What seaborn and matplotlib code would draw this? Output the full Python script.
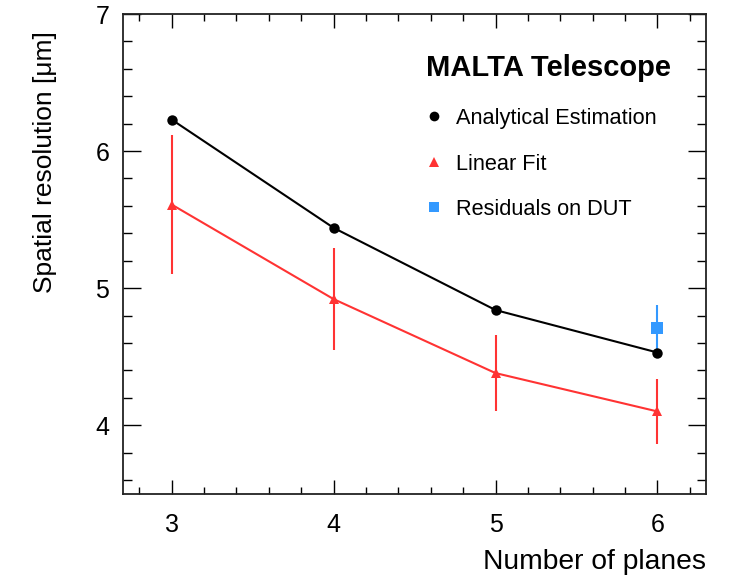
import matplotlib
matplotlib.use("Agg")
import matplotlib.pyplot as plt
from matplotlib.lines import Line2D
from matplotlib.ticker import MultipleLocator
import seaborn as sns
import pandas as pd

# Telescope resolution vs. number of planes
planes = [3, 4, 5, 6]
analytical = [6.23, 5.44, 4.84, 4.53]
linear_fit = [5.61, 4.92, 4.38, 4.10]
linear_fit_err = [0.51, 0.37, 0.28, 0.24]
dut_planes = [6]
dut_resid = [4.71]
dut_resid_err = [0.17]

legend_title = "MALTA Telescope"
legend_labels = ["Analytical Estimation", "Linear Fit", "Residuals on DUT"]

RED = "#ff3333"
BLUE = "#3399ff"

sns.set_style("ticks")
plt.rcParams["font.family"] = ["Liberation Sans", "DejaVu Sans"]
plt.rcParams["text.color"] = "black"
plt.rcParams["axes.labelcolor"] = "black"
plt.rcParams["xtick.color"] = "black"
plt.rcParams["ytick.color"] = "black"

fig = plt.figure(figsize=(7.34, 5.77), dpi=100)
ax = fig.add_axes([0.1676, 0.1444, 0.9619 - 0.1676, 0.9757 - 0.1444])

df_a = pd.DataFrame({"planes": planes, "res": analytical})
df_l = pd.DataFrame({"planes": planes, "res": linear_fit, "err": linear_fit_err})
df_d = pd.DataFrame({"planes": dut_planes, "res": dut_resid, "err": dut_resid_err})

# error bars
ax.errorbar(df_l["planes"], df_l["res"], yerr=df_l["err"], fmt="none",
            ecolor=RED, elinewidth=1.5, capsize=0, zorder=2)
ax.errorbar(df_d["planes"], df_d["res"], yerr=df_d["err"], fmt="none",
            ecolor=BLUE, elinewidth=1.5, capsize=0, zorder=2)

sns.lineplot(data=df_a, x="planes", y="res", ax=ax, color="black", lw=1.5,
             marker="o", markersize=7.5, markeredgewidth=0, zorder=4)
sns.lineplot(data=df_l, x="planes", y="res", ax=ax, color=RED, lw=1.5,
             marker="^", markersize=7.5, markeredgewidth=0, zorder=3)
sns.scatterplot(data=df_d, x="planes", y="res", ax=ax, color=BLUE,
                marker="s", s=70, linewidth=0, zorder=3)

ax.set_xlim(2.7, 6.3)
ax.set_ylim(3.5, 7.0)
ax.xaxis.set_major_locator(MultipleLocator(1))
ax.xaxis.set_minor_locator(MultipleLocator(0.2))
ax.yaxis.set_major_locator(MultipleLocator(1))
ax.yaxis.set_minor_locator(MultipleLocator(0.2))

ax.tick_params(axis="both", which="both", direction="in", top=True, right=True,
               width=1.0, colors="black", labelsize=18)
ax.tick_params(axis="x", which="major", length=9.9, pad=14)
ax.tick_params(axis="x", which="minor", length=5)
ax.tick_params(axis="y", which="major", length=12.7, pad=10)
ax.tick_params(axis="y", which="minor", length=6.5)
for s in ax.spines.values():
    s.set_linewidth(1.3)
    s.set_color("#222222")

ax.set_xlabel("Number of planes", fontsize=20.3, ha="right")
ax.xaxis.set_label_coords(1.0, -0.115)
ax.set_ylabel("Spatial resolution [μm]", fontsize=19, ha="right")
ax.yaxis.set_label_coords(-0.114, 1.0 - 0.035)

handles = [
    Line2D([], [], ls="none", marker="o", color="black", markersize=7, markeredgewidth=0),
    Line2D([], [], ls="none", marker="^", color=RED, markersize=7, markeredgewidth=0),
    Line2D([], [], ls="none", marker="s", color=BLUE, markersize=7, markeredgewidth=0),
]
leg = ax.legend(handles, legend_labels, title=legend_title, loc="upper left",
                bbox_to_anchor=(0.504, 0.934), frameon=False, fontsize=15.7,
                title_fontproperties={"weight": "bold", "size": 21},
                handlelength=0.8, handletextpad=0.6, labelspacing=1.12,
                borderaxespad=0, alignment="left")
leg._legend_box.sep = 18.5

fig.savefig("out.png", dpi=100)
